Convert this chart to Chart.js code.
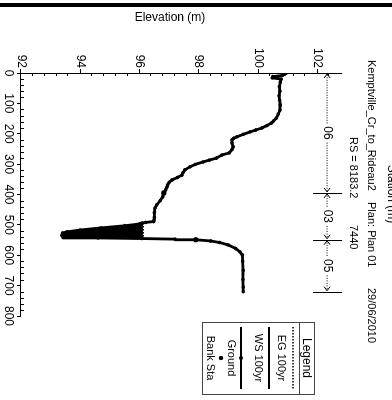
<!DOCTYPE html>
<html lang="en">
<head>
<meta charset="UTF-8">
<title>Kemptville_Cr_to_Rideau2 RS 8183.2</title>
<script src="https://cdn.jsdelivr.net/npm/chart.js"></script>
<style>
    html, body { margin: 0; padding: 0; background: #fff; overflow: hidden; }
    body { width: 392px; height: 400px; position: relative; }
    .edge { position: absolute; left: 0; top: 3px; width: 392px; height: 4px; background: #000; }
    /* the section is printed sideways on the page */
    .sideways { position: absolute; left: -4px; top: 4px; width: 400px; height: 392px; transform: rotate(90deg); }
</style>
</head>
<body>
<div class="edge"></div>
<div class="sideways"><canvas id="xs" width="400" height="392"></canvas></div>

<script>
    // ground survey (station m, elevation m)
    const groundSta = [0, 4, 8, 12, 16, 20, 30, 45, 60, 75, 90, 105, 122, 135, 148, 158, 165, 173,
        181, 188, 194, 202, 210, 215, 220, 230, 243, 252, 263, 270, 280, 287, 293, 301, 309, 319,
        328, 336, 344, 352, 360, 368, 375, 385, 395, 408, 420, 434, 445, 460, 475, 484, 489, 492,
        494, 497, 503, 510, 517, 523, 527, 535, 541, 543, 545, 547, 549, 553, 558, 566, 578, 589,
        599, 620, 650, 680, 705, 720];
    const groundElev = [100.95, 100.9, 100.82, 100.5, 100.48, 100.78, 100.75, 100.72, 100.74, 100.71, 100.73, 100.75, 100.74, 100.68, 100.62, 100.52, 100.45, 100.3,
        100.13, 99.92, 99.73, 99.5, 99.29, 99.18, 99.12, 99.12, 99.16, 99.12, 99.03, 98.78, 98.6, 98.35, 98.14, 97.88, 97.7, 97.53,
        97.47, 97.43, 97.28, 97.1, 97.0, 96.95, 96.93, 96.88, 96.82, 96.78, 96.7, 96.58, 96.52, 96.5, 96.5, 96.49, 96.48, 96.2,
        96.08, 96.0, 95.5, 94.7, 94.0, 93.55, 93.4, 93.38, 93.42, 94.6, 96.08, 97.2, 97.9, 98.4, 98.7, 98.99, 99.25, 99.39,
        99.47, 99.48, 99.5, 99.49, 99.5, 99.5];

    const bankSta = [395, 549];

    // 100yr profile
    const wsElev = 96.08;
    const egElev = 96.13;
    const wsLeft = 494;
    const wsRight = 545;

    // Manning's n zones
    const nBounds = [0, 395, 549, 720];
    const nLabels = ['06', '03', '05'];
    const nLineElev = 102.33;

    const staTicks = [0, 100, 200, 300, 400, 500, 600, 700, 800];
    const elevTicks = [92, 94, 96, 98, 100, 102];

    const FONT = '"Liberation Sans", Arial, sans-serif';

    const ground = groundSta.map((s, i) => ({x: s, y: groundElev[i]}));
    const banks = bankSta.map(s => ({x: s, y: groundElev[groundSta.indexOf(s)]}));
    const water = ground.filter(p => p.x >= wsLeft && p.x <= wsRight);

    function minorTicks(chart) {
        const {ctx, scales: {x, y}} = chart;
        ctx.save();
        ctx.strokeStyle = '#000';
        ctx.lineWidth = 1;
        ctx.beginPath();
        for (let v = 92; v <= 102.8; v += 0.4) {
            if (Math.abs(v / 2 - Math.round(v / 2)) < 0.01) continue;
            const py = Math.round(y.getPixelForValue(v)) + 0.5;
            ctx.moveTo(x.left, py);
            ctx.lineTo(x.left + 3, py);
        }
        for (let s = 20; s < 800; s += 20) {
            if (s % 100 === 0) continue;
            const px = Math.round(x.getPixelForValue(s)) + 0.5;
            ctx.moveTo(px, y.bottom);
            ctx.lineTo(px, y.bottom - 3);
        }
        ctx.stroke();
        ctx.restore();
    }

    function nZones(chart) {
        const {ctx, scales: {x, y}} = chart;
        const py = y.getPixelForValue(nLineElev);
        ctx.save();
        ctx.strokeStyle = '#000';
        ctx.fillStyle = '#000';
        ctx.lineWidth = 1;
        ctx.font = '12px ' + FONT;
        ctx.textAlign = 'center';
        ctx.textBaseline = 'middle';

        nBounds.forEach(b => {
            const px = Math.round(x.getPixelForValue(b)) + 0.5;
            ctx.beginPath();
            ctx.moveTo(px, py - 15);
            ctx.lineTo(px, py + 14);
            ctx.stroke();
        });

        for (let i = 0; i < nLabels.length; i++) {
            const x0 = x.getPixelForValue(nBounds[i]);
            const x1 = x.getPixelForValue(nBounds[i + 1]);
            const mid = (x0 + x1) / 2;
            const half = ctx.measureText(nLabels[i]).width / 2 + 3;
            ctx.fillText(nLabels[i], mid, py);

            ctx.setLineDash([1, 1.5]);
            ctx.beginPath();
            ctx.moveTo(mid - half, py);
            ctx.lineTo(x0 + 1, py);
            ctx.moveTo(mid + half, py);
            ctx.lineTo(x1 - 1, py);
            ctx.stroke();
            ctx.setLineDash([]);

            ctx.beginPath();
            ctx.moveTo(x0 + 5, py - 3);
            ctx.lineTo(x0 + 1, py);
            ctx.lineTo(x0 + 5, py + 3);
            ctx.moveTo(x1 - 5, py - 3);
            ctx.lineTo(x1 - 1, py);
            ctx.lineTo(x1 - 5, py + 3);
            ctx.stroke();
        }
        ctx.restore();
    }

    function headings(chart) {
        const {ctx} = chart;
        ctx.save();
        ctx.fillStyle = '#000';
        ctx.font = '11px ' + FONT;
        ctx.textBaseline = 'middle';
        ctx.textAlign = 'left';
        ctx.fillText('Kemptville_Cr_to_Rideau2', 60, 21);
        ctx.fillText('Plan: Plan 01', 202, 21);
        ctx.fillText('29/06/2010', 288, 21);
        ctx.fillText('RS = 8183.2', 137, 39);
        ctx.fillText('7440', 225, 39);

        // axis caption from the sheet above, cut by the page edge
        ctx.font = '12px ' + FONT;
        ctx.textAlign = 'center';
        ctx.textBaseline = 'alphabetic';
        ctx.fillText('Station (m)', 194, 4);

        // elevation axis title
        ctx.translate(18, 222);
        ctx.rotate(-Math.PI / 2);
        ctx.textBaseline = 'middle';
        ctx.fillText('Elevation (m)', 0, 0);
        ctx.restore();
    }

    function legendBox(chart) {
        const {ctx} = chart;
        const u0 = 322, u1 = 394, v0 = 77, v1 = 189, cu = (u0 + u1) / 2;
        ctx.save();
        ctx.strokeStyle = '#444';
        ctx.lineWidth = 1;
        ctx.strokeRect(u0 + 0.5, v0 + 0.5, u1 - u0, v1 - v0);
        ctx.beginPath();
        ctx.moveTo(u0, v0 + 15.5);
        ctx.lineTo(u1, v0 + 15.5);
        ctx.stroke();

        ctx.fillStyle = '#000';
        ctx.textAlign = 'center';
        ctx.textBaseline = 'middle';
        ctx.font = '12px ' + FONT;
        ctx.fillText('Legend', cu, 86);
        ctx.font = '11px ' + FONT;

        ctx.strokeStyle = '#000';
        ctx.lineWidth = 1.5;
        ctx.setLineDash([1.5, 1.5]);
        ctx.beginPath();
        ctx.moveTo(327, 99);
        ctx.lineTo(389, 99);
        ctx.stroke();
        ctx.setLineDash([]);
        ctx.fillText('EG 100yr', cu, 111);

        ctx.lineWidth = 2;
        ctx.beginPath();
        ctx.moveTo(327, 123);
        ctx.lineTo(389, 123);
        ctx.stroke();
        ctx.fillText('WS 100yr', cu, 134);

        ctx.beginPath();
        ctx.moveTo(327, 151);
        ctx.lineTo(389, 151);
        ctx.stroke();
        ctx.beginPath();
        ctx.arc(cu, 151, 2, 0, Math.PI * 2);
        ctx.fill();
        ctx.fillText('Ground', cu, 161);

        ctx.beginPath();
        ctx.arc(cu, 171, 2.2, 0, Math.PI * 2);
        ctx.fill();
        ctx.fillText('Bank Sta', cu, 182);
        ctx.restore();
    }

    const sectionDecor = {
        id: 'sectionDecor',
        afterDraw(chart) {
            minorTicks(chart);
            nZones(chart);
            headings(chart);
            legendBox(chart);
        }
    };

    new Chart(document.getElementById('xs'), {
        type: 'line',
        data: {
            datasets: [
                {
                    label: 'Water',
                    data: water,
                    borderWidth: 0,
                    pointRadius: 0,
                    backgroundColor: '#000',
                    fill: 'shape'
                },
                {
                    label: 'Ground',
                    data: ground,
                    borderColor: '#000',
                    borderWidth: 2.8,
                    borderJoinStyle: 'round',
                    pointRadius: 1.8,
                    pointBorderWidth: 0,
                    pointBackgroundColor: '#000',
                    fill: false
                },
                {
                    label: 'EG 100yr',
                    data: [{x: wsLeft, y: egElev}, {x: wsRight, y: egElev}],
                    borderColor: '#000',
                    borderWidth: 1.2,
                    borderDash: [1.5, 1.5],
                    pointRadius: 0,
                    fill: false
                },
                {
                    label: 'WS 100yr',
                    data: [{x: wsLeft, y: wsElev}, {x: wsRight, y: wsElev}],
                    borderColor: '#000',
                    borderWidth: 2,
                    pointRadius: 0,
                    fill: false
                },
                {
                    label: 'Bank Sta',
                    data: banks,
                    showLine: false,
                    pointRadius: 2.6,
                    pointBorderWidth: 0,
                    pointBackgroundColor: '#000'
                }
            ]
        },
        options: {
            responsive: false,
            animation: false,
            devicePixelRatio: 1,
            layout: {padding: {top: 51, right: 84, left: 0, bottom: 0}},
            plugins: {legend: {display: false}, tooltip: {enabled: false}},
            scales: {
                x: {
                    type: 'linear',
                    min: 0,
                    max: 800,
                    afterBuildTicks: s => { s.ticks = staTicks.map(v => ({value: v})); },
                    afterFit: s => { s.height = 21; },
                    ticks: {color: '#000', font: {family: FONT, size: 12}, padding: 1, maxRotation: 0},
                    grid: {drawOnChartArea: false, tickLength: 4, tickColor: '#000'},
                    border: {color: '#000', width: 1}
                },
                y: {
                    min: 92,
                    max: 102.8,
                    afterBuildTicks: s => { s.ticks = elevTicks.map(v => ({value: v})); },
                    afterFit: s => { s.width = 73; },
                    ticks: {color: '#000', font: {family: FONT, size: 12}, padding: 1},
                    grid: {drawOnChartArea: false, tickLength: 4, tickColor: '#000'},
                    border: {color: '#000', width: 1}
                }
            }
        },
        plugins: [sectionDecor]
    });
</script>
</body>
</html>
